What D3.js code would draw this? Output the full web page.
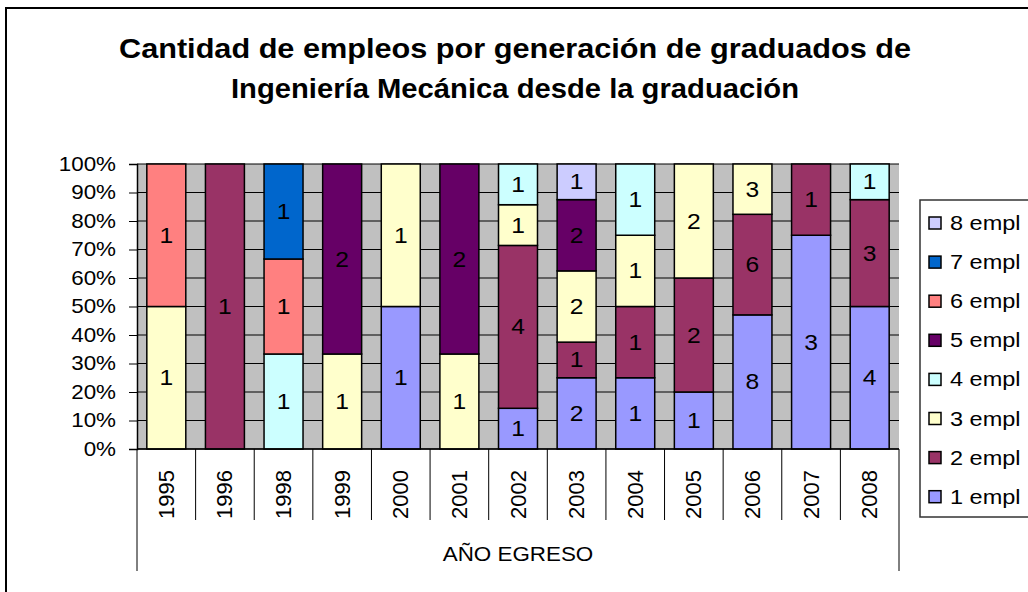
<!DOCTYPE html>
<html>
<head>
<meta charset="utf-8">
<script src="https://cdn.jsdelivr.net/npm/d3@7"></script>
<style>
  html, body { margin: 0; padding: 0; background: #fff; }
  svg { display: block; font-family: Arial, "Liberation Sans", sans-serif; }
</style>
</head>
<body>
<div id="chart"></div>
<script>
// values (employee counts per graduation year)
const years = ['1995', '1996', '1998', '1999', '2000', '2001', '2002', '2003', '2004', '2005', '2006', '2007', '2008'];
const empl1 = [0, 0, 0, 0, 1, 0, 1, 2, 1, 1, 8, 3, 4];
const empl2 = [0, 1, 0, 0, 0, 0, 4, 1, 1, 2, 6, 1, 3];
const empl3 = [1, 0, 0, 1, 1, 1, 1, 2, 1, 2, 3, 0, 0];
const empl4 = [0, 0, 1, 0, 0, 0, 1, 0, 1, 0, 0, 0, 1];
const empl5 = [0, 0, 0, 2, 0, 2, 0, 2, 0, 0, 0, 0, 0];
const empl6 = [1, 0, 1, 0, 0, 0, 0, 0, 0, 0, 0, 0, 0];
const empl7 = [0, 0, 1, 0, 0, 0, 0, 0, 0, 0, 0, 0, 0];
const empl8 = [0, 0, 0, 0, 0, 0, 0, 1, 0, 0, 0, 0, 0];
const seriesNames = ['1 empl', '2 empl', '3 empl', '4 empl', '5 empl', '6 empl', '7 empl', '8 empl'];
const seriesColors = ['#9999FF', '#993366', '#FFFFCC', '#CCFFFF', '#660066', '#FF8080', '#0066CC', '#CCCCFF'];
const yTicks = [0, 0.1, 0.2, 0.3, 0.4, 0.5, 0.6, 0.7, 0.8, 0.9, 1];
const titleLines = ['Cantidad de empleos por generación de graduados de', 'Ingeniería Mecánica desde la graduación'];
const axisTitle = 'AÑO EGRESO';

const width = 1028, height = 592;
const plot = { left: 137, right: 899, top: 164, bottom: 449 };
const SX = 1.12; // horizontal stretch of the original text

const seriesValues = [empl1, empl2, empl3, empl4, empl5, empl6, empl7, empl8];
const table = years.map((year, i) => {
    const row = { year };
    seriesNames.forEach((name, s) => row[name] = seriesValues[s][i]);
    return row;
});

const svg = d3.select('#chart').append('svg')
    .attr('width', width)
    .attr('height', height);

svg.append('rect')
    .attr('x', 6).attr('y', 8)
    .attr('width', 1100).attr('height', 700)
    .attr('fill', '#fff')
    .attr('stroke', '#000')
    .attr('stroke-width', 2);

// title
svg.selectAll('.title')
    .data(titleLines)
    .enter()
    .append('text')
    .attr('class', 'title')
    .attr('x', 515)
    .attr('y', (d, i) => 58 + i * 40)
    .attr('text-anchor', 'middle')
    .attr('font-size', 27)
    .attr('font-weight', 'bold')
    .attr('textLength', (d, i) => i === 0 ? 792 : 568)
    .attr('lengthAdjust', 'spacingAndGlyphs')
    .text(d => d);

const x = d3.scaleBand()
    .domain(years)
    .range([plot.left, plot.right])
    .paddingInner(0.335)
    .paddingOuter(0.335 / 2);

const y = d3.scaleLinear()
    .domain([0, 1])
    .range([plot.bottom, plot.top]);

// plot background and gridlines
svg.append('rect')
    .attr('x', plot.left).attr('y', plot.top)
    .attr('width', plot.right - plot.left)
    .attr('height', plot.bottom - plot.top)
    .attr('fill', '#C0C0C0');

svg.append('g')
    .selectAll('line')
    .data(yTicks)
    .enter()
    .append('line')
    .attr('x1', plot.left).attr('x2', plot.right)
    .attr('y1', d => y(d)).attr('y2', d => y(d))
    .attr('stroke', '#000')
    .attr('stroke-width', 1);

// y axis
const yAxis = svg.append('g')
    .attr('transform', `translate(${plot.left},0)`)
    .call(d3.axisLeft(y).tickValues(yTicks).tickFormat(d3.format('.0%')).tickSize(8).tickPadding(13));
yAxis.select('.domain').attr('stroke', '#000').attr('stroke-width', 1.5);
yAxis.selectAll('.tick line').attr('stroke', '#000');
yAxis.selectAll('.tick text')
    .attr('font-size', 20)
    .attr('font-family', 'Arial, "Liberation Sans", sans-serif')
    .attr('fill', '#000')
    .attr('x', -21 / SX)
    .attr('transform', `scale(${SX},1)`);

// stacked bars
const stacked = d3.stack()
    .keys(seriesNames)
    .offset(d3.stackOffsetExpand)(table);

const layers = svg.append('g')
    .selectAll('g')
    .data(stacked)
    .enter()
    .append('g')
    .attr('fill', (d, i) => seriesColors[i]);

layers.selectAll('rect')
    .data(d => d.filter(p => p[1] > p[0]))
    .enter()
    .append('rect')
    .attr('x', d => x(d.data.year))
    .attr('y', d => y(d[1]))
    .attr('width', x.bandwidth())
    .attr('height', d => y(d[0]) - y(d[1]))
    .attr('stroke', '#000')
    .attr('stroke-width', 1.5);

layers.selectAll('text')
    .data(function(d) { return d.filter(p => p[1] > p[0]).map(p => ({ p, key: d.key })); })
    .enter()
    .append('text')
    .attr('transform', d => `translate(${x(d.p.data.year) + x.bandwidth() / 2},${y((d.p[0] + d.p[1]) / 2)}) scale(${SX},1)`)
    .attr('text-anchor', 'middle')
    .attr('dominant-baseline', 'central')
    .attr('font-size', 22)
    .attr('fill', '#000')
    .text(d => d.p.data[d.key]);

// category axis with year boxes
const step = x.step();
const catAxis = svg.append('g');
catAxis.append('line')
    .attr('x1', plot.left).attr('x2', plot.right)
    .attr('y1', plot.bottom).attr('y2', plot.bottom)
    .attr('stroke', '#000').attr('stroke-width', 1.5);

catAxis.selectAll('.sep')
    .data(d3.range(years.length + 1))
    .enter()
    .append('line')
    .attr('class', 'sep')
    .attr('x1', i => plot.left + i * step)
    .attr('x2', i => plot.left + i * step)
    .attr('y1', plot.bottom)
    .attr('y2', i => (i === 0 || i === years.length) ? 571 : 520)
    .attr('stroke', '#000')
    .attr('stroke-width', 1);

catAxis.selectAll('.year')
    .data(years)
    .enter()
    .append('text')
    .attr('class', 'year')
    .attr('transform', d => `translate(${x(d) + x.bandwidth() / 2},519) rotate(-90)`)
    .attr('text-anchor', 'start')
    .attr('dominant-baseline', 'central')
    .attr('font-size', 22)
    .attr('fill', '#000')
    .text(d => d);

catAxis.append('text')
    .attr('transform', `translate(${(plot.left + plot.right) / 2},561) scale(${SX},1)`)
    .attr('text-anchor', 'middle')
    .attr('font-size', 20)
    .attr('fill', '#000')
    .text(axisTitle);

// legend
const legend = svg.append('g');
legend.append('rect')
    .attr('x', 920).attr('y', 200)
    .attr('width', 130).attr('height', 317)
    .attr('fill', '#fff')
    .attr('stroke', '#333')
    .attr('stroke-width', 1.5);

const legendOrder = seriesNames.map((name, i) => ({ name, color: seriesColors[i] })).reverse();
const items = legend.selectAll('.item')
    .data(legendOrder)
    .enter()
    .append('g')
    .attr('class', 'item')
    .attr('transform', (d, i) => `translate(929,${223 + i * 39.1})`);

items.append('rect')
    .attr('x', 0).attr('y', -6)
    .attr('width', 12).attr('height', 12)
    .attr('fill', d => d.color)
    .attr('stroke', '#000')
    .attr('stroke-width', 1.5);

items.append('text')
    .attr('transform', `translate(21,0) scale(${SX},1)`)
    .attr('dominant-baseline', 'central')
    .attr('font-size', 21)
    .attr('fill', '#000')
    .text(d => d.name);
</script>
</body>
</html>
